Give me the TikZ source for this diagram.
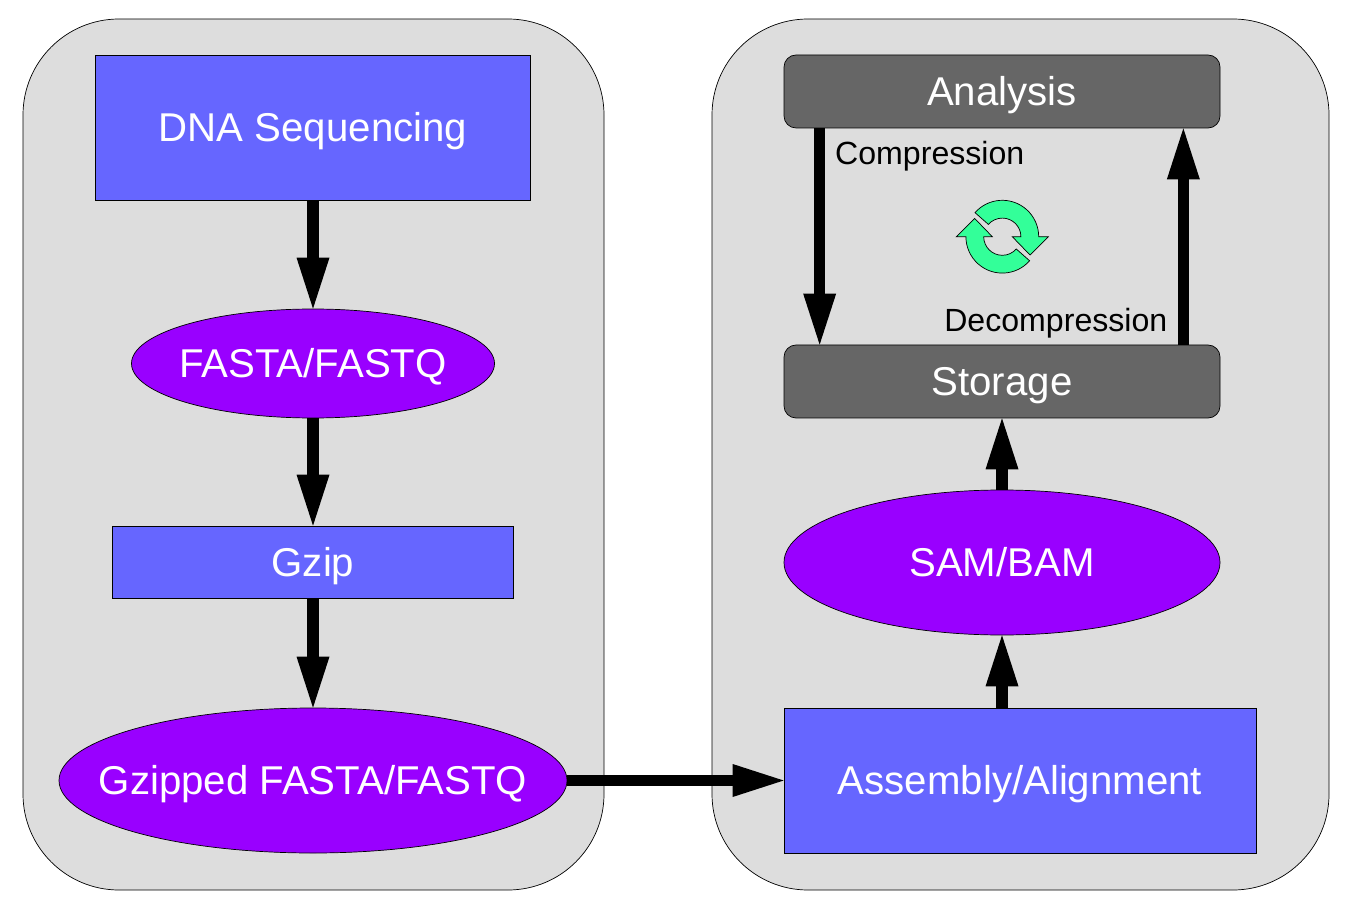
\documentclass[tikz,border=0pt]{standalone}
\usepackage{fontspec}
\setmainfont{Liberation Sans}
\usetikzlibrary{arrows.meta,shapes.geometric}

\newcommand{\drawhalfswirl}[1]{
\draw[fill=swirlgreen, line width=0.7pt, rotate around={#1:(1002.3,661.3)}, shift={(1002.3,661.3)}]
(138.6:36.4pt) arc[start angle=138.6, end angle=0, radius=36.4pt]
-- (46,0) -- (27.7,-18.3) -- (10,0) -- (18.6,0)
arc[start angle=0, end angle=138.6, radius=18.6pt] -- cycle;
}
% ellipse nodes must not grow around their text
\newcommand{\blobtext}[1]{\makebox[0pt]{#1}}

\definecolor{panelgray}{HTML}{DDDDDD}
\definecolor{stepblue}{HTML}{6666FF}
\definecolor{formatpurple}{HTML}{9900FF}
\definecolor{toolgray}{HTML}{666666}
\definecolor{swirlgreen}{HTML}{33FF99}

\tikzset{
  bigtext/.style={text=white, font=\fontsize{40.2}{48}\selectfont, text height=28.6pt, text depth=0pt},
  panelbox/.style={draw, line width=0.7pt, fill=panelgray, rounded corners=96pt, inner sep=0pt},
  stepbox/.style={draw, line width=0.7pt, fill=stepblue, bigtext, inner sep=0pt},
  formatblob/.style={ellipse, draw, line width=0.7pt, fill=formatpurple, bigtext, inner sep=0pt},
  toolbox/.style={draw, line width=0.7pt, fill=toolgray, bigtext, rounded corners=12pt, inner sep=0pt},
  flow/.style={line width=11.3pt, -{Triangle[width=33pt,length=51pt,line width=0pt]}},
  flowlabel/.style={font=\fontsize{32.1}{38}\selectfont, inner sep=0pt}
}

\begin{document}
\begin{tikzpicture}[x=1pt, y=1pt]
\useasboundingbox (0,0) rectangle (1356,898);

\node[panelbox, minimum width=581pt, minimum height=871pt] (leftpanel) at (313.5,443.5) {};
\node[panelbox, minimum width=617pt, minimum height=871pt] (rightpanel) at (1020.5,443.5) {};

\node[stepbox, minimum width=435pt, minimum height=145pt] (dna) at (313,770.5) {DNA Sequencing};
\node[formatblob, minimum width=363pt, minimum height=109pt] (fasta) at (313,534.5) {\blobtext{FASTA/FASTQ}};
\node[stepbox, minimum width=401pt, minimum height=72pt] (gzip) at (313,336) {Gzip};
\node[formatblob, minimum width=508pt, minimum height=145pt] (gzipped) at (313,117.5) {\blobtext{Gzipped FASTA/FASTQ}};

\node[toolbox, minimum width=436pt, minimum height=73pt] (analysis) at (1002,806.5) {Analysis};
\node[toolbox, minimum width=436pt, minimum height=73pt] (storage) at (1002,516.5) {Storage};
\node[formatblob, minimum width=436pt, minimum height=145pt] (sam) at (1002,335.5) {\blobtext{SAM/BAM}};
\node[stepbox, minimum width=472pt, minimum height=145pt] (assembly) at (1020,117.5) {Assembly/Alignment};

\draw[flow] (dna) -- (fasta);
\draw[flow] (fasta) -- (gzip);
\draw[flow] (gzip) -- (gzipped);
\draw[flow] (gzipped) -- (assembly);
\draw[flow] (sam.north |- assembly.north) -- (sam.south);
\draw[flow] (sam) -- (storage);
\draw[flow] ([xshift=36pt]analysis.south west) -- ([xshift=36pt]storage.north west);
\draw[flow] ([xshift=-37pt]storage.north east) -- ([xshift=-37pt]analysis.south east);

\node[flowlabel, anchor=west] (compression) at (835,742) {Compression};
\node[flowlabel, anchor=east] (decompression) at (1167.5,575) {Decompression};

\drawhalfswirl{0}
\drawhalfswirl{180}

\end{tikzpicture}
\end{document}
